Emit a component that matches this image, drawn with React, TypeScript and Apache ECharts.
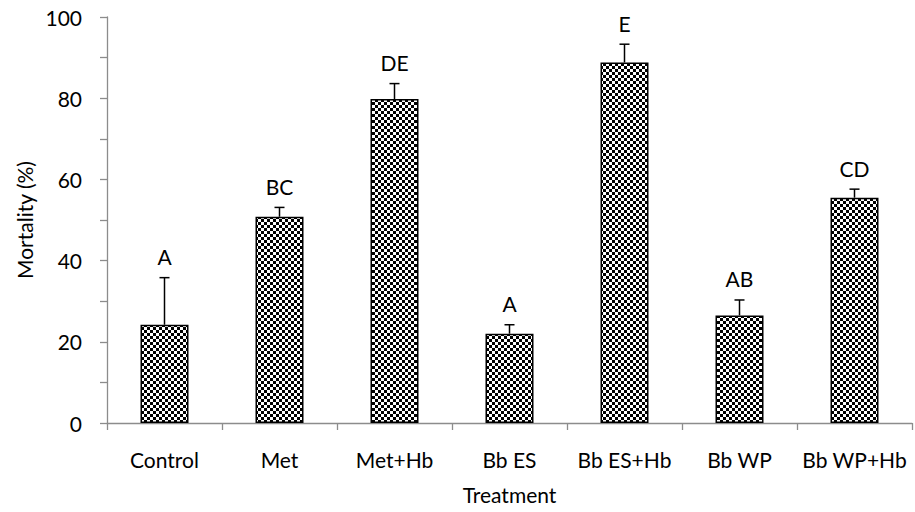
import React, { useEffect, useRef } from "react";
import * as echarts from "echarts";

// Treatment groups and their mean mortality (%) with upper standard errors
const categories = ["Control", "Met", "Met+Hb", "Bb ES", "Bb ES+Hb", "Bb WP", "Bb WP+Hb"];
const mortality = [24.2, 50.8, 79.8, 22.0, 88.8, 26.5, 55.5];
const errors = [11.6, 2.3, 3.8, 2.2, 4.5, 3.8, 2.1];
const letters = ["A", "BC", "DE", "A", "E", "AB", "CD"];
const yTicks = [0, 20, 40, 60, 80, 100];

const FONT = "Lato, 'Open Sans', sans-serif";
const FS = 21;

// small checkerboard tile used as bar fill
function checkerTile(): string {
  const c = document.createElement("canvas");
  const cell = 3;
  c.width = cell * 2;
  c.height = cell * 2;
  const ctx = c.getContext("2d")!;
  ctx.fillStyle = "#ffffff";
  ctx.fillRect(0, 0, c.width, c.height);
  ctx.fillStyle = "#000000";
  ctx.fillRect(0, 0, cell, cell);
  ctx.fillRect(cell, cell, cell, cell);
  return c.toDataURL();
}

export default function App() {
  const ref = useRef<HTMLDivElement>(null);

  useEffect(() => {
    if (!ref.current) return;
    const chart = echarts.init(ref.current, null, { renderer: "svg" });
    const tile = checkerTile();

    chart.setOption({
      animation: false,
      grid: { left: 107, right: 3, top: 17, bottom: 89, containLabel: false },
      xAxis: {
        type: "category",
        data: categories,
        name: "Treatment",
        nameLocation: "middle",
        nameGap: 61,
        nameTextStyle: { fontFamily: FONT, fontSize: FS, color: "#000" },
        axisLine: { lineStyle: { color: "#8c8c8c", width: 1.3 } },
        axisTick: { show: true, length: 7, alignWithLabel: false, lineStyle: { color: "#8c8c8c", width: 1.3 } },
        axisLabel: { interval: 0, fontFamily: FONT, fontSize: FS, color: "#000", margin: 26 },
      },
      yAxis: {
        type: "value",
        min: yTicks[0],
        max: yTicks[yTicks.length - 1],
        interval: 20,
        name: "Mortality (%)",
        nameLocation: "middle",
        nameGap: 72,
        nameTextStyle: { fontFamily: FONT, fontSize: FS, color: "#000" },
        axisLine: { show: true, lineStyle: { color: "#8c8c8c", width: 1.3 } },
        axisTick: { show: true, length: 7, lineStyle: { color: "#8c8c8c", width: 1.3 } },
        minorTick: { show: true, splitNumber: 2, length: 7, lineStyle: { color: "#8c8c8c", width: 1.3 } },
        splitLine: { show: false },
        axisLabel: { fontFamily: FONT, fontSize: FS, color: "#000", margin: 25 },
      },
      series: [
        {
          type: "bar",
          data: mortality,
          barWidth: 48,
          itemStyle: {
            color: { image: tile, repeat: "repeat" },
            borderColor: "#000",
            borderWidth: 1.5,
          },
        },
        {
          type: "custom",
          data: mortality.map((v, i) => [i, v, v + errors[i]]),
          z: 5,
          renderItem: (params: any, api: any) => {
            const i = api.value(0);
            const base = api.coord([i, api.value(1)]);
            const top = api.coord([i, api.value(2)]);
            const capHalf = 5;
            return {
              type: "group",
              children: [
                {
                  type: "line",
                  shape: { x1: base[0], y1: base[1], x2: top[0], y2: top[1] },
                  style: { stroke: "#000", lineWidth: 1.5 },
                },
                {
                  type: "line",
                  shape: { x1: top[0] - capHalf, y1: top[1], x2: top[0] + capHalf, y2: top[1] },
                  style: { stroke: "#000", lineWidth: 1.5 },
                },
                {
                  type: "text",
                  x: top[0],
                  y: top[1] - 21,
                  style: {
                    text: letters[params.dataIndex],
                    fontFamily: FONT,
                    fontSize: FS,
                    fill: "#000",
                    align: "center",
                    verticalAlign: "middle",
                  },
                },
              ],
            };
          },
        },
      ],
    });

    return () => chart.dispose();
  }, []);

  return <div ref={ref} style={{ width: 915, height: 512, position: "absolute", left: 0, top: 0 }} />;
}
